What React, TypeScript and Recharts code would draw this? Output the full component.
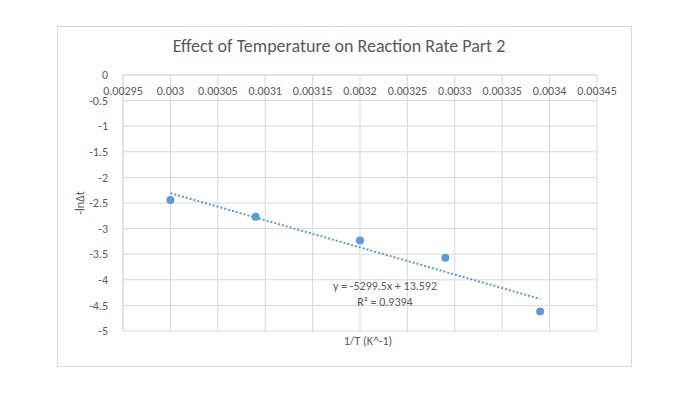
import { CartesianGrid, Scatter, ScatterChart, XAxis, YAxis } from "recharts";

const invT = [0.003, 0.00309, 0.0032, 0.00329, 0.00339];
const negLnDt = [-2.44, -2.77, -3.23, -3.57, -4.62];

// trendline ends, as Excel draws them (y = -5299.5x + 13.592)
const trendX = [0.003, 0.00339];
const trendY = [-2.307, -4.374];

const xTicks = [0.00295, 0.003, 0.00305, 0.0031, 0.00315, 0.0032, 0.00325, 0.0033, 0.00335, 0.0034, 0.00345];
const yTicks = [-5, -4.5, -4, -3.5, -3, -2.5, -2, -1.5, -1, -0.5, 0];

const points = invT.map((x, i) => ({ x, y: negLnDt[i] }));
const trend = trendX.map((x, i) => ({ x, y: trendY[i] }));

const font = "Calibri, Carlito, 'Liberation Sans', sans-serif";
const grey = "#595959";

const Dot = (p: any) => <circle cx={p.cx} cy={p.cy} r={4} fill="#5b9bd5" />;

// grid lines on every x tick (the default grid thins them out)
const xGrid = ({ offset }: any) => {
  const lo = xTicks[0];
  const hi = xTicks[xTicks.length - 1];
  return xTicks.map((t) => offset.left + ((t - lo) / (hi - lo)) * offset.width);
};

export default function App() {
  return (
    <div style={{ position: "absolute", left: 0, top: 0, width: 689, height: 396, background: "#fff", fontFamily: font }}>
      <div style={{ position: "absolute", left: 57, top: 26, width: 575, height: 341, border: "1px solid #d9d9d9", boxSizing: "border-box" }} />
      <ScatterChart width={689} height={396} margin={{ top: 75, right: 92, bottom: 65, left: 0 }}>
        <CartesianGrid stroke="#d9d9d9" verticalCoordinatesGenerator={xGrid} />
        <XAxis
          type="number"
          dataKey="x"
          orientation="top"
          mirror
          domain={[0.00295, 0.00345]}
          ticks={xTicks}
          interval={0}
          tickLine={false}
          axisLine={{ stroke: "#d9d9d9" }}
          tickMargin={5}
          tick={{ fill: grey, fontSize: 12, fontFamily: font }}
          allowDataOverflow
        />
        <YAxis
          type="number"
          dataKey="y"
          domain={[-5, 0]}
          ticks={yTicks}
          interval={0}
          width={123}
          tickLine={false}
          axisLine={{ stroke: "#d9d9d9" }}
          tickMargin={9}
          tick={{ fill: grey, fontSize: 12, fontFamily: font }}
        />
        <Scatter
          data={trend}
          line={{ stroke: "#5b9bd5", strokeWidth: 2, strokeDasharray: "2 2" }}
          shape={() => null}
          isAnimationActive={false}
        />
        <Scatter data={points} shape={Dot} isAnimationActive={false} />
      </ScatterChart>
      <div style={{ position: "absolute", left: 57, width: 564, top: 35, textAlign: "center", fontSize: 18, color: grey }}>
        Effect of Temperature on Reaction Rate Part 2
      </div>
      <div style={{ position: "absolute", left: 285, width: 200, top: 278, textAlign: "center", fontSize: 12, color: grey, lineHeight: "16px" }}>
        y = -5299.5x + 13.592
        <br />
        R² = 0.9394
      </div>
      <div style={{ position: "absolute", left: 260, width: 216, top: 334, textAlign: "center", fontSize: 12, color: grey }}>
        1/T (K^-1)
      </div>
      <div
        style={{
          position: "absolute",
          left: 80,
          top: 203,
          transform: "translate(-50%, -50%) rotate(-90deg)",
          fontSize: 12,
          color: grey,
          whiteSpace: "nowrap",
        }}
      >
        -lnΔt
      </div>
    </div>
  );
}
